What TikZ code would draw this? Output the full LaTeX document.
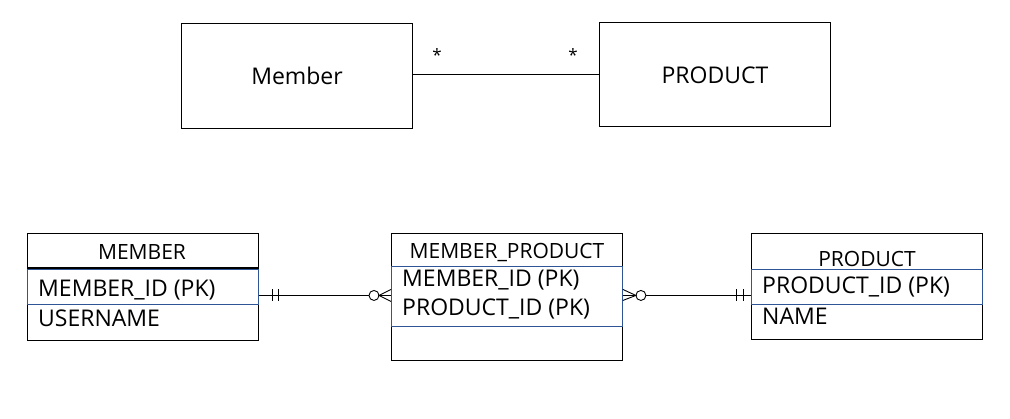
\documentclass[tikz,border=0pt]{standalone}
\usepackage{fontspec}
\setmainfont{Open Sans}
\usetikzlibrary{calc}
\definecolor{rowblue}{RGB}{47,85,151}
\tikzset{
  ent/.style={draw=black, line width=0.9pt, inner sep=0pt, anchor=north west},
  keyrow/.style={draw=rowblue, line width=0.9pt, inner sep=0pt, anchor=north west},
  lbl/.style={inner sep=0pt, anchor=center},
  fld/.style={inner sep=0pt, anchor=west, font=\fontsize{23}{26}\selectfont},
  ttl/.style={inner sep=0pt, anchor=center, font=\fontsize{21}{24}\selectfont},
  conn/.style={line width=0.9pt},
}
\begin{document}
\begin{tikzpicture}[x=1pt,y=-1pt]
\useasboundingbox (0,0) rectangle (1010,419);
% top
\node[ent, minimum width=231pt, minimum height=105pt] (m) at (181,23) {};
\node[ent, minimum width=231pt, minimum height=104pt] (p) at (599,22) {};
\node[lbl, font=\fontsize{23}{26}\selectfont] (mt) at (297,76) {Member};
\node[lbl, font=\fontsize{23}{26}\selectfont] (pt) at (715,75) {PRODUCT};
\coordinate (mr) at ($(m.north east)+(0,51)$);
\draw[conn] (mr) -- (mr -| p.west) coordinate (pl);
\node[lbl, font=\fontsize{17}{20}\selectfont] (s1) at (437,55) {*};
\node[lbl, font=\fontsize{17}{20}\selectfont] (s2) at (573,55) {*};

% MEMBER table
\node[ent, minimum width=231pt, minimum height=107pt] (M) at (27,233) {};
\draw[line width=1.2pt] (27,268) -- (258,268);
\node[keyrow, minimum width=231pt, minimum height=35pt] (Mk) at (27,269) {};
\node[ttl] (Mt) at (142,252) {MEMBER};
\node[fld] (Mf1) at (38,290) {MEMBER\_ID (PK)};
\node[fld] (Mf2) at (38,318) {USERNAME};

% MEMBER_PRODUCT table
\node[ent, minimum width=231pt, minimum height=127pt] (MP) at (391,233) {};
\node[keyrow, minimum width=231pt, minimum height=60pt] (MPk) at (391,266) {};
\node[ttl] (MPt) at (507,253) {MEMBER\_PRODUCT};
\node[fld] (MPf1) at (402,280) {MEMBER\_ID (PK)};
\node[fld] (MPf2) at (402,309) {PRODUCT\_ID (PK)};

% PRODUCT table
\node[ent, minimum width=231pt, minimum height=106pt] (P) at (751,233) {};
\node[keyrow, minimum width=231pt, minimum height=35pt] (Pk) at (751,269) {};
\node[ttl] (Pt) at (867,259) {PRODUCT};
\node[fld] (Pf1) at (762,287) {PRODUCT\_ID (PK)};
\node[fld] (Pf2) at (762,316) {NAME};

% connector MEMBER -- MEMBER_PRODUCT
\coordinate (c1r) at ($(MPk.west)+(0,-1)$);
\coordinate (c1l) at (c1r -| M.east);
\draw[conn] (c1l) -- ($(c1r)+(-22,0)$);
\draw[conn] ($(c1r)+(-17,0)$) -- (c1r);
\draw[conn] ($(c1l)+(14,-6)$) -- ($(c1l)+(14,6)$);
\draw[conn] ($(c1l)+(20,-6)$) -- ($(c1l)+(20,6)$);
\draw[conn, fill=white] ($(c1r)+(-17,0)$) circle (5pt);
\draw[conn] ($(c1r)+(0,-6)$) -- ($(c1r)+(-12,0)$) -- ($(c1r)+(0,6)$);

% connector MEMBER_PRODUCT -- PRODUCT
\coordinate (c2l) at ($(MPk.east)+(0,-1)$);
\coordinate (c2r) at (c2l -| P.west);
\draw[conn] ($(c2l)+(22,0)$) -- (c2r);
\draw[conn] (c2l) -- ($(c2l)+(13,0)$);
\draw[conn, fill=white] ($(c2l)+(18,0)$) circle (5pt);
\draw[conn] ($(c2l)+(0,-6)$) -- ($(c2l)+(13,0)$) -- ($(c2l)+(0,5)$);
\draw[conn] ($(c2r)+(-15,-6)$) -- ($(c2r)+(-15,6)$);
\draw[conn] ($(c2r)+(-8,-6)$) -- ($(c2r)+(-8,6)$);
\end{tikzpicture}
\end{document}
